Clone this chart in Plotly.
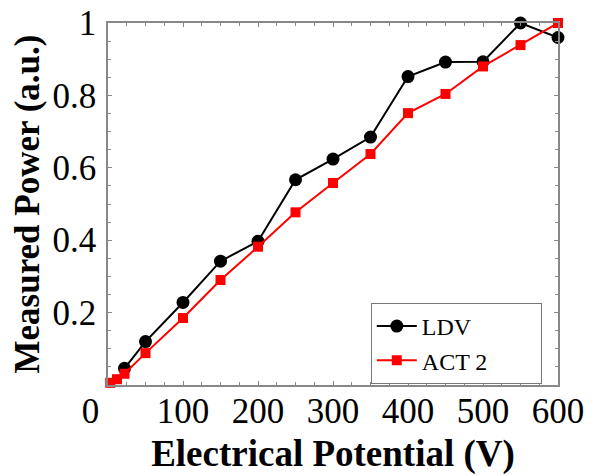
import plotly.graph_objects as go

# Data
ldv_x = [22, 50, 100, 150, 200, 250, 300, 350, 400, 450, 500, 550, 600]
ldv_y = [0.046, 0.12, 0.228, 0.342, 0.397, 0.567, 0.624, 0.685, 0.852, 0.892, 0.893, 1.0, 0.96]

act_x = [3, 12, 22, 50, 100, 150, 200, 250, 300, 350, 400, 450, 500, 550, 600]
act_y = [0.006, 0.016, 0.031, 0.088, 0.185, 0.29, 0.382, 0.477, 0.558, 0.638, 0.751, 0.804, 0.880, 0.939, 1.0]

x_tickvals = [0, 100, 200, 300, 400, 500, 600]
x_ticktext = ["0" + "\u00a0" * 4, "100", "200", "300", "400", "500", "600"]
y_tickvals = [0.2, 0.4, 0.6, 0.8, 1.0]
y_ticktext = ["0.2", "0.4", "0.6", "0.8", "1"]

FONT = "Liberation Serif, Times New Roman, serif"
PAD = "\u00a0" * 8

fig = go.Figure()
fig.add_trace(go.Scatter(
    x=ldv_x, y=ldv_y, name="LDV" + PAD, mode="lines+markers",
    line=dict(color="black", width=2),
    marker=dict(symbol="circle", size=13, color="black"),
    cliponaxis=False,
))
fig.add_trace(go.Scatter(
    x=act_x, y=act_y, name="ACT 2" + PAD, mode="lines+markers",
    line=dict(color="#ff0000", width=2),
    marker=dict(symbol="square", size=10, color="#ff0000"),
    cliponaxis=False,
))

axis_common = dict(
    showline=True, linecolor="#888888", linewidth=1.5, mirror="ticks",
    ticks="inside", tickcolor="#888888", ticklen=4, tickwidth=1,
    showgrid=False, zeroline=False, automargin=False,
    ticklabeloverflow="allow",
    tickfont=dict(family=FONT, size=35, color="black"),
)

fig.update_xaxes(
    range=[0, 600], tickmode="array", tickvals=x_tickvals, ticktext=x_ticktext,
    minor=dict(dtick=25, ticks="inside", ticklen=3, tickcolor="#888888"),
    title=dict(text="<b>Electrical Potential (V)</b>", font=dict(family=FONT, size=37, color="black"), standoff=10),
    ticklabelstandoff=-6,
    **axis_common,
)
fig.update_yaxes(
    range=[0, 1], tickmode="array", tickvals=y_tickvals, ticktext=y_ticktext,
    minor=dict(dtick=0.05, ticks="inside", ticklen=3, tickcolor="#888888"),
    title=dict(text="\u00a0\u00a0<b>Measured Power (a.u.)</b>", font=dict(family=FONT, size=35, color="black"), standoff=2),
    ticklabelstandoff=3,
    **axis_common,
)

fig.update_layout(
    width=592, height=476,
    margin=dict(l=108, r=34, t=23, b=91),
    paper_bgcolor="white", plot_bgcolor="white",
    showlegend=True,
    legend=dict(
        x=0.584, y=0.2265, xanchor="left", yanchor="top",
        bgcolor="white", bordercolor="#777777", borderwidth=1,
        font=dict(family=FONT, size=24, color="black"),
        itemwidth=40, tracegroupgap=0,
    ),
)

# remove the default 8px page margin so the figure fills the window exactly
fig.write_html(
    "out.html",
    config={"displayModeBar": False},
    post_script="document.body.style.margin='0';",
)
